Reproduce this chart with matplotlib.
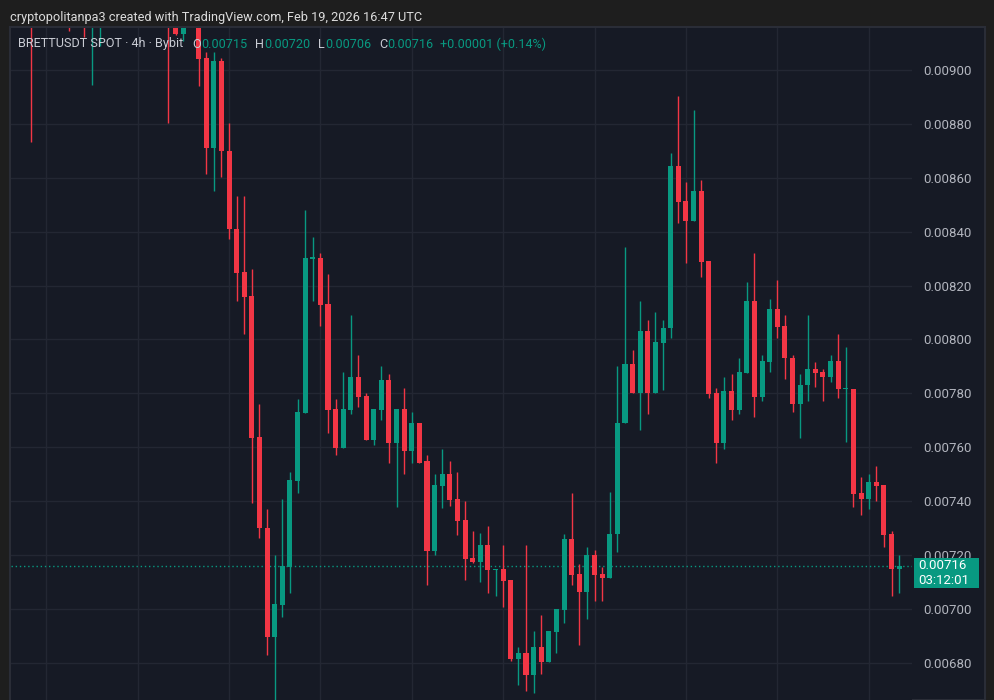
import matplotlib
matplotlib.use("Agg")
import matplotlib.pyplot as plt
from matplotlib.patches import Rectangle
import numpy as np

# ---------------- data (BRETTUSDT 4h) ----------------
opens = [0.00935, 0.00922, 0.00932, 0.00926, 0.00934, 0.00928, 0.00923, 0.00929, 0.00921, 0.00927,
         0.00933, 0.00926, 0.00931, 0.00925, 0.00920, 0.00927, 0.00922, 0.00926, 0.00921, 0.00918,
         0.009134, 0.00920, 0.00918, 0.009045, 0.008711, 0.009033, 0.008699, 0.008410, 0.008250, 0.008161,
         0.007638, 0.007301, 0.006896, 0.007015, 0.007156, 0.007475, 0.007727, 0.008300, 0.008302, 0.008132,
         0.007742, 0.007597, 0.007738, 0.007861, 0.007790, 0.007627, 0.007738, 0.007850, 0.007616, 0.007742,
         0.007586, 0.007690, 0.007549, 0.007215, 0.007456, 0.007501, 0.007408, 0.007330, 0.007189, 0.007174,
         0.007237, 0.007145, 0.007148, 0.007108, 0.006814, 0.006837, 0.006755, 0.006859, 0.006803, 0.006915,
         0.006996, 0.007260, 0.007130, 0.007063, 0.007200, 0.007130, 0.007115, 0.007278, 0.007690, 0.007909,
         0.007801, 0.008032, 0.007801, 0.007987, 0.008043, 0.008644, 0.008514, 0.008440, 0.008551, 0.008291,
         0.007801, 0.007616, 0.007809, 0.007738, 0.007876, 0.008143, 0.007787, 0.007917, 0.008113, 0.008050,
         0.007931, 0.007761, 0.007831, 0.007891, 0.007879, 0.007861, 0.007920, 0.007816, 0.007816, 0.007430,
         0.007408, 0.007471, 0.007460, 0.007278, 0.00715]
highs = [0.00940, 0.00936, 0.00938, 0.00939, 0.00937, 0.00931, 0.00933, 0.00932, 0.00930, 0.00937,
         0.00936, 0.00934, 0.00933, 0.00928, 0.00930, 0.00929, 0.00930, 0.00928, 0.00925, 0.00920,
         0.00922, 0.00923, 0.00920, 0.009067, 0.009067, 0.009045, 0.008803, 0.008532, 0.008532, 0.008262,
         0.007761, 0.007371, 0.007200, 0.007408, 0.007508, 0.007779, 0.008481, 0.008380, 0.008321, 0.008243,
         0.007779, 0.007879, 0.008091, 0.007942, 0.007801, 0.007742, 0.007902, 0.007872, 0.007742, 0.007820,
         0.007731, 0.007690, 0.007571, 0.007501, 0.007594, 0.007549, 0.007508, 0.007401, 0.007289, 0.007282,
         0.007308, 0.007148, 0.007237, 0.007108, 0.006859, 0.007237, 0.006918, 0.006978, 0.006918, 0.007000,
         0.007278, 0.007430, 0.007167, 0.007230, 0.007219, 0.007156, 0.007434, 0.007902, 0.008343, 0.007961,
         0.008143, 0.008072, 0.008102, 0.008072, 0.008692, 0.008904, 0.008584, 0.008852, 0.008592, 0.008291,
         0.007820, 0.007861, 0.007872, 0.007931, 0.008213, 0.008321, 0.007942, 0.008150, 0.008221, 0.008091,
         0.007942, 0.007872, 0.008091, 0.007917, 0.007891, 0.007942, 0.008020, 0.007972, 0.007816, 0.007490,
         0.007501, 0.007531, 0.007460, 0.007289, 0.00720]
lows = [0.008733, 0.00920, 0.00921, 0.00924, 0.00922, 0.009145, 0.00920, 0.009122, 0.008944, 0.00909,
        0.00922, 0.00923, 0.00921, 0.00917, 0.00918, 0.00918, 0.00919, 0.00918, 0.008803, 0.00913,
        0.009108, 0.00916, 0.008941, 0.008614, 0.008551, 0.008603, 0.008373, 0.008143, 0.008020, 0.007393,
        0.007263, 0.006829, 0.006618, 0.006970, 0.007059, 0.007430, 0.007727, 0.008143, 0.008050, 0.007653,
        0.007571, 0.007597, 0.007724, 0.007750, 0.007627, 0.007609, 0.007701, 0.007542, 0.007378, 0.007501,
        0.007542, 0.007542, 0.007089, 0.007200, 0.007375, 0.007382, 0.007275, 0.007108, 0.007171, 0.007100,
        0.007059, 0.007048, 0.007007, 0.006807, 0.006718, 0.006696, 0.006688, 0.006759, 0.006803, 0.006837,
        0.006948, 0.007089, 0.006866, 0.006963, 0.007030, 0.007030, 0.007115, 0.007212, 0.007690, 0.007801,
        0.007664, 0.007724, 0.007801, 0.007813, 0.008006, 0.008432, 0.008284, 0.008440, 0.008232, 0.007783,
        0.007542, 0.007594, 0.007701, 0.007724, 0.007876, 0.007712, 0.007772, 0.007879, 0.008006, 0.007853,
        0.007731, 0.007635, 0.007772, 0.007824, 0.007772, 0.007842, 0.007783, 0.007620, 0.007378, 0.007349,
        0.007371, 0.007401, 0.007230, 0.007048, 0.00706]
closes = [0.00922, 0.00932, 0.00926, 0.00934, 0.00928, 0.00923, 0.00929, 0.00922, 0.00927, 0.00933,
          0.00926, 0.00931, 0.00925, 0.00920, 0.00927, 0.00922, 0.00926, 0.00921, 0.00918, 0.009134,
          0.00920, 0.00918, 0.009041, 0.008711, 0.009033, 0.008699, 0.008410, 0.008247, 0.008158, 0.007635,
          0.007301, 0.006896, 0.007019, 0.007160, 0.007479, 0.007731, 0.008302, 0.008303, 0.008128, 0.007738,
          0.007597, 0.007742, 0.007861, 0.007787, 0.007627, 0.007742, 0.007850, 0.007616, 0.007742, 0.007586,
          0.007690, 0.007542, 0.007215, 0.007460, 0.007501, 0.007404, 0.007327, 0.007186, 0.007174, 0.007237,
          0.007145, 0.007148, 0.007104, 0.006814, 0.006837, 0.006755, 0.006859, 0.006803, 0.006918, 0.007000,
          0.007260, 0.007126, 0.007063, 0.007200, 0.007126, 0.007115, 0.007278, 0.007690, 0.007909, 0.007801,
          0.008032, 0.007801, 0.007991, 0.008043, 0.008644, 0.008510, 0.008440, 0.008551, 0.008288, 0.007798,
          0.007616, 0.007809, 0.007738, 0.007879, 0.008143, 0.007787, 0.007920, 0.008113, 0.008046, 0.007931,
          0.007761, 0.007831, 0.007891, 0.007876, 0.007861, 0.007920, 0.007816, 0.007818, 0.007427, 0.007408,
          0.007471, 0.007456, 0.007275, 0.007148, 0.00716]

price_ticks = [0.0068, 0.0070, 0.0072, 0.0074, 0.0076, 0.0078, 0.0080, 0.0082, 0.0084, 0.0086, 0.0088, 0.0090]
time_grid_idx = [2, 14, 26, 38, 50, 62, 74, 86, 98, 110]

header = "cryptopolitanpa3 created with TradingView.com, Feb 19, 2026 16:47 UTC"
symbol_text = "BRETTUSDT SPOT · 4h · Bybit"
countdown = "03:12:01"

# ---------------- style ----------------
UP = "#089981"
DOWN = "#F23645"
BG = "#161a25"
OUTER = "#1e1e1e"
GRID = "#232733"
TXT = "#b2b5be"
FONT = ["Roboto", "DejaVu Sans"]
plt.rcParams["font.family"] = FONT
FS = 9.1

W, H = 995, 700
fig = plt.figure(figsize=(W / 100, H / 100), dpi=100, facecolor=OUTER)

# pane (drawn below the axes)
fig.patches.append(Rectangle((10 / W, 0), 975 / W, 673 / H, transform=fig.transFigure,
                             facecolor=BG, edgecolor="#2a2d37", linewidth=1.5, zorder=-5))

ax = fig.add_axes([11 / W, 0, 901 / W, 672 / H])
ax.set_zorder(1)
ax.set_facecolor(BG)
for s in ax.spines.values():
    s.set_visible(False)

o = np.array(opens); h = np.array(highs); l = np.array(lows); c = np.array(closes)
n = len(o)
x = np.arange(n)
up = c >= o
cols = np.where(up, UP, DOWN)

ymin, ymax = 0.006662, 0.009156
ax.set_ylim(ymin, ymax)
ax.set_xlim(-2.63, 115.69)

px = (ymax - ymin) / 672.0
ax.vlines(x, l, h, colors=cols, linewidth=1.0, zorder=3)
body_lo = np.minimum(o, c)
body_h = np.maximum(np.abs(c - o), px * 1.2)
ax.bar(x, body_h, bottom=body_lo, width=0.66, color=cols, linewidth=0, zorder=4)

# grid
ax.set_yticks(price_ticks)
ax.set_yticklabels([f"{t:.5f}" for t in price_ticks])
ax.yaxis.tick_right()
ax.tick_params(axis="y", length=0, pad=8, labelsize=9.5, labelcolor=TXT)
ax.set_xticks(time_grid_idx)
ax.tick_params(axis="x", length=0, labelbottom=False)
ax.grid(True, color=GRID, linewidth=1.0, zorder=0)
ax.set_axisbelow(True)

# last price line
last = c[-1]
ax.axhline(last, color=UP, linewidth=1.0, linestyle=(0, (1, 2)), zorder=2)

fig.canvas.draw()
ypix = ax.transData.transform((0, last))[1]
box = Rectangle((914 / W, (ypix - 22) / H), 65 / W, 30 / H, transform=fig.transFigure,
                facecolor=UP, edgecolor="none", zorder=5)
fig.patches.append(box)
fig.text(918 / W, (ypix + 0.5) / H, f"{last:.5f}", color="white", fontsize=9.5,
         va="center", ha="left", zorder=6)
fig.text(918 / W, (ypix - 14.5) / H, countdown, color="white", fontsize=9.5,
         va="center", ha="left", zorder=6)

# header
fig.text(10 / W, 1 - 17 / H, header, color="#dcdcdc", fontsize=9.2, va="center", ha="left")

# legend row
renderer = fig.canvas.get_renderer()
chg = c[-1] - o[-1]
pieces = [(symbol_text, "#c9ccd4", 9),
          ("O", "#c9ccd4", 0), (f"{o[-1]:.5f}", UP, 8),
          ("H", "#c9ccd4", 0), (f"{h[-1]:.5f}", UP, 8),
          ("L", "#c9ccd4", 0), (f"{l[-1]:.5f}", UP, 8),
          ("C", "#c9ccd4", 0), (f"{c[-1]:.5f}", UP, 7),
          (f"{chg:+.5f} ({chg / o[-1] * 100:+.2f}%)", UP, 0)]
xpos = 18.0
ylab = 1 - 44 / H
for txt, col, gap in pieces:
    t = fig.text(xpos / W, ylab, txt, color=col, fontsize=FS, va="center", ha="left", zorder=7)
    bb = t.get_window_extent(renderer)
    xpos += bb.width + gap

fig.savefig("out.png", dpi=100, facecolor=OUTER)
